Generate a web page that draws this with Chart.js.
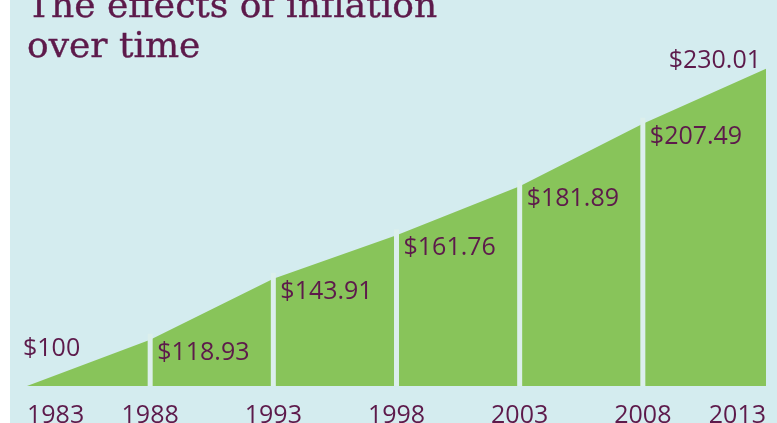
<!DOCTYPE html>
<html>
<head>
<meta charset="utf-8">
<script src="https://cdn.jsdelivr.net/npm/chart.js@4"></script>
<style>
  html, body { margin: 0; padding: 0; background: #ffffff; overflow: hidden; }
  #wrap { position: absolute; left: 10px; top: 0; width: 767px; height: 423px; background: #d4ecef; overflow: hidden; }
  #title { position: absolute; left: 17px; top: -15.5px; font-family: "DejaVu Serif", serif; font-size: 36px; line-height: 40px; color: #5d1a4b; white-space: nowrap; -webkit-text-stroke: 0.4px #5d1a4b; }
  canvas { position: absolute; left: 0; top: 0; }
</style>
</head>
<body>
<div id="wrap">
  <canvas id="c" width="767" height="439"></canvas>
  <div id="title">The effects of inflation<br>over time</div>
</div>
<script>
const years = ['1983', '1988', '1993', '1998', '2003', '2008', '2013'];
const values = [100, 118.93, 143.91, 161.76, 181.89, 207.49, 230.01];
const valueLabels = ['$100', '$118.93', '$143.91', '$161.76', '$181.89', '$207.49', '$230.01'];

const TEXT = '#5d1a4b';
const GREEN = '#88c45a';
const GAP = '#dcefec';

const overlay = {
  id: 'overlay',
  afterDatasetsDraw(chart) {
    const ctx = chart.ctx;
    const xs = chart.scales.x, ys = chart.scales.y;
    const bottom = chart.chartArea.bottom;
    ctx.save();
    // light gaps between segments
    ctx.fillStyle = GAP;
    for (let i = 1; i < values.length - 1; i++) {
      const x = xs.getPixelForValue(i);
      const y = ys.getPixelForValue(values[i]);
      ctx.fillRect(x - 2.5, y - 6, 5, bottom - y + 6);
    }
    // value labels
    ctx.fillStyle = TEXT;
    ctx.font = '500 25px "Open Sans"';
    ctx.textBaseline = 'alphabetic';
    for (let i = 0; i < values.length; i++) {
      const x = xs.getPixelForValue(i);
      const y = ys.getPixelForValue(values[i]);
      if (i === 0) {
        ctx.textAlign = 'left';
        ctx.fillText(valueLabels[i], x - 4, y - 30);
      } else if (i === values.length - 1) {
        ctx.textAlign = 'right';
        ctx.fillText(valueLabels[i], x - 5, y - 1);
      } else {
        ctx.textAlign = 'left';
        ctx.fillText(valueLabels[i], x + 7, y + 20);
      }
    }
    ctx.restore();
  }
};

new Chart(document.getElementById('c'), {
  type: 'line',
  data: {
    labels: years,
    datasets: [{
      data: values,
      fill: 'start',
      backgroundColor: GREEN,
      borderWidth: 0,
      borderColor: GREEN,
      pointRadius: 0,
      tension: 0
    }]
  },
  options: {
    responsive: false,
    animation: false,
    events: [],
    layout: { padding: { left: 17, right: 11, top: 20, bottom: 0 } },
    plugins: { legend: { display: false }, tooltip: { enabled: false }, title: { display: false } },
    scales: {
      x: {
        type: 'category',
        offset: false,
        afterFit(scale) { scale.height = 53; },
        grid: { display: false, drawTicks: true, tickLength: 8 },
        border: { display: false },
        ticks: {
          color: TEXT,
          font: { family: '"Open Sans"', size: 25, weight: '500' },
          padding: 7,
          align: 'inner',
          maxRotation: 0,
          autoSkip: false
        }
      },
      y: {
        display: false,
        min: 100,
        max: 250
      }
    }
  },
  plugins: [overlay]
});
</script>
</body>
</html>
